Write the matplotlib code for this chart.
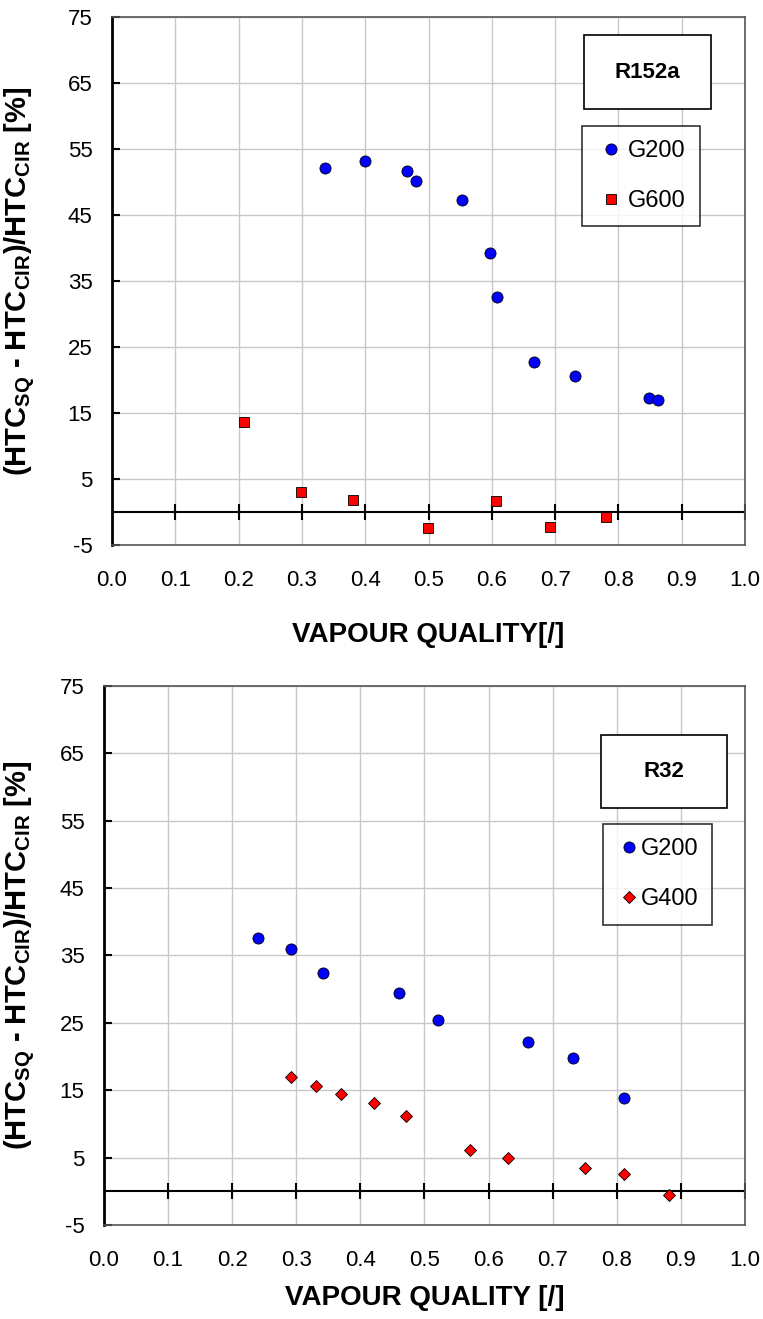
import numpy as np
import matplotlib
matplotlib.use('Agg')
import matplotlib.pyplot as plt

# 字体设置
plt.rcParams['font.family'] = ['Liberation Sans', 'DejaVu Sans']
plt.rcParams['mathtext.fontset'] = 'custom'
plt.rcParams['mathtext.rm'] = 'Liberation Sans'
plt.rcParams['mathtext.bf'] = 'Liberation Sans:bold'
plt.rcParams['axes.unicode_minus'] = False  # 负号用连字符

# R152a 数据
r152a_g200_x = [0.336, 0.399, 0.466, 0.480, 0.553, 0.597, 0.609, 0.667, 0.732, 0.848, 0.862]
r152a_g200_y = [52.1, 53.2, 51.7, 50.1, 47.3, 39.3, 32.6, 22.8, 20.6, 17.2, 17.0]
r152a_g600_x = [0.208, 0.298, 0.380, 0.499, 0.606, 0.692, 0.780]
r152a_g600_y = [13.7, 3.1, 1.8, -2.4, 1.6, -2.3, -0.7]

# R32 数据
r32_g200_x = [0.241, 0.291, 0.341, 0.461, 0.521, 0.661, 0.731, 0.811]
r32_g200_y = [37.6, 36.0, 32.4, 29.4, 25.4, 22.2, 19.8, 13.8]
r32_g400_x = [0.291, 0.331, 0.370, 0.421, 0.471, 0.571, 0.630, 0.751, 0.811, 0.881]
r32_g400_y = [16.9, 15.7, 14.5, 13.1, 11.1, 6.1, 4.9, 3.5, 2.6, -0.5]

x_ticks = np.round(np.arange(0, 1.01, 0.1), 1)
y_ticks = np.arange(-5, 76, 10)

ylabel = r'(HTC$_{\mathbf{SQ}}$ - HTC$_{\mathbf{CIR}}$)/HTC$_{\mathbf{CIR}}$ [%]'


def setup_axes(ax, xlabel, xlabel_pad, ylabel_x):
    ax.set_xlim(0, 1)
    ax.set_ylim(-5, 75)
    ax.set_xticks(x_ticks)
    ax.set_xticklabels([f'{v:.1f}' for v in x_ticks])
    ax.set_yticks(y_ticks)
    ax.grid(True, color='#c8c8c8', linewidth=1)
    ax.set_axisbelow(True)
    for s in ['top', 'right', 'bottom']:
        ax.spines[s].set_color('#555555')
        ax.spines[s].set_linewidth(1.2)
    ax.spines['left'].set_color('black')
    ax.spines['left'].set_linewidth(2)
    ax.tick_params(axis='y', direction='in', length=6, width=1.5, labelsize=16, pad=14)
    ax.tick_params(axis='x', length=0, labelsize=16, pad=18)
    # 零线以及零线上的刻度
    ax.axhline(0, color='black', linewidth=1.5, zorder=2)
    ax.plot(x_ticks[1:], np.zeros(len(x_ticks) - 1), linestyle='none', marker='|',
            markersize=11, markeredgewidth=1.5, color='black', zorder=2)
    ax.set_xlabel(xlabel, fontsize=20, fontweight='bold', labelpad=xlabel_pad)
    ax.set_ylabel(ylabel, fontsize=21, fontweight='bold')
    ax.yaxis.set_label_coords(ylabel_x, 0.5)


def label_box(ax, text, x0, x1, y0, y1):
    ax.add_patch(plt.Rectangle((x0, y0), x1 - x0, y1 - y0, transform=ax.transAxes,
                               facecolor='white', edgecolor='black', linewidth=1.2, zorder=4))
    ax.text((x0 + x1) / 2, (y0 + y1) / 2, text, transform=ax.transAxes, fontsize=16,
            fontweight='bold', ha='center', va='center', zorder=5)


fig = plt.figure(figsize=(7.63, 13.19), dpi=100)

# 上图 R152a
ax1 = fig.add_axes([0.1468, 0.5868, 0.8296, 0.4003])
setup_axes(ax1, 'VAPOUR QUALITY[/]', 22, -0.118)
ax1.plot(r152a_g200_x, r152a_g200_y, 'o', color='blue', markeredgecolor='black',
         markeredgewidth=0.6, markersize=8, label='G200', zorder=3)
ax1.plot(r152a_g600_x, r152a_g600_y, 's', color='red', markeredgecolor='black',
         markeredgewidth=0.6, markersize=7.5, label='G600', zorder=3)
label_box(ax1, 'R152a', 0.745, 0.946, 0.826, 0.965)
leg1 = ax1.legend(loc='upper left', bbox_to_anchor=(0.742, 0.794), fontsize=17,
                  frameon=True, fancybox=False, edgecolor='black', handletextpad=0.05,
                  labelspacing=1.2, borderpad=0.6, handlelength=1.3, borderaxespad=0)
leg1.get_frame().set_linewidth(1.2)

# 下图 R32
ax2 = fig.add_axes([0.1363, 0.0713, 0.8401, 0.4086])
setup_axes(ax2, 'VAPOUR QUALITY [/]', 10, -0.104)
ax2.plot(r32_g200_x, r32_g200_y, 'o', color='blue', markeredgecolor='black',
         markeredgewidth=0.6, markersize=8, label='G200', zorder=3)
ax2.plot(r32_g400_x, r32_g400_y, 'D', color='red', markeredgecolor='black',
         markeredgewidth=0.6, markersize=6, label='G400', zorder=3)
label_box(ax2, 'R32', 0.775, 0.972, 0.774, 0.910)
leg2 = ax2.legend(loc='upper left', bbox_to_anchor=(0.778, 0.744), fontsize=17,
                  frameon=True, fancybox=False, edgecolor='black', handletextpad=0.0,
                  labelspacing=1.2, borderpad=0.6, handlelength=1.0, borderaxespad=0)
leg2.get_frame().set_linewidth(1.2)

fig.savefig('out.png', dpi=100)
